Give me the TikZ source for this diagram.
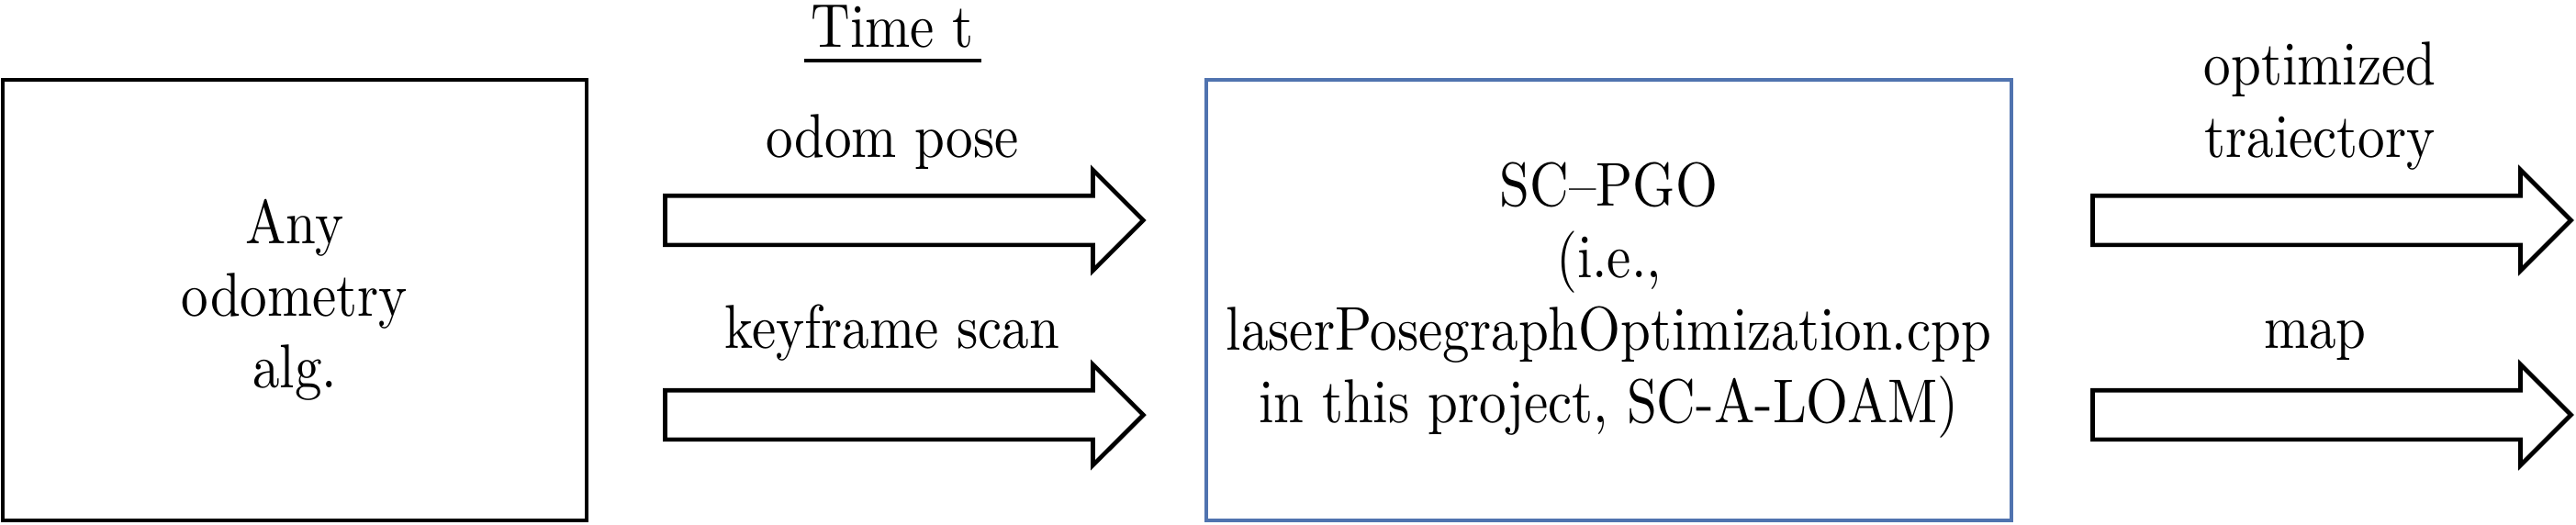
\documentclass[tikz,border=0pt]{standalone}
\usepackage{fontspec}
\setmainfont{lmroman10-regular.otf}[FakeStretch=0.875]
\usetikzlibrary{shapes.arrows,positioning}
\definecolor{boxblue}{RGB}{80,115,175}
\tikzset{every node/.style={font=\fontsize{19.2}{22.4}\selectfont, align=center, inner sep=0pt}}
\tikzset{block/.style={draw, line width=1.35pt, minimum height=4.8cm}}
\tikzset{fatarrow/.style={single arrow, draw, line width=1.35pt, minimum height=5.21cm,
  text height=0pt, text depth=0pt, inner ysep=0.245cm, inner xsep=0pt,
  single arrow head extend=0.28cm, anchor=tail}}

\begin{document}
\begin{tikzpicture}
\useasboundingbox (0,0) rectangle (28.06,5.71);
\node (odometry)  [block, minimum width=6.36cm] at (3.21,2.44) {Any\\odometry\\alg.};
\node (posearrow) [fatarrow] at (7.22,3.31) {};
\node (scanarrow) [fatarrow] at (7.22,1.19) {};
\node (pgo)       [block, draw=boxblue, minimum width=8.77cm] at (17.525,2.44)
  {SC--PGO\\(i.e.,\\laserPosegraphOptimization.cpp\\in this project, SC-A-LOAM)};
\node (trajarrow) [fatarrow] at (22.77,3.31) {};
\node (maparrow)  [fatarrow] at (22.77,1.19) {};

\node (timetext)  [anchor=base] at (9.72,5.20) {Time t};
\node (posetext)  [anchor=base] at (9.72,4.00) {odom pose};
\node (scantext)  [anchor=base] at (9.72,1.92) {keyframe scan};
\node (trajtext)  [anchor=base] at (25.27,4.00) {optimized\\traiectory};
\node (maptext)   [anchor=base] at (25.22,1.92) {map};

\draw [line width=1.35pt] ([xshift=-0.965cm,yshift=-0.15cm]timetext.base)
  -- ([xshift=0.965cm,yshift=-0.15cm]timetext.base);
\end{tikzpicture}
\end{document}
